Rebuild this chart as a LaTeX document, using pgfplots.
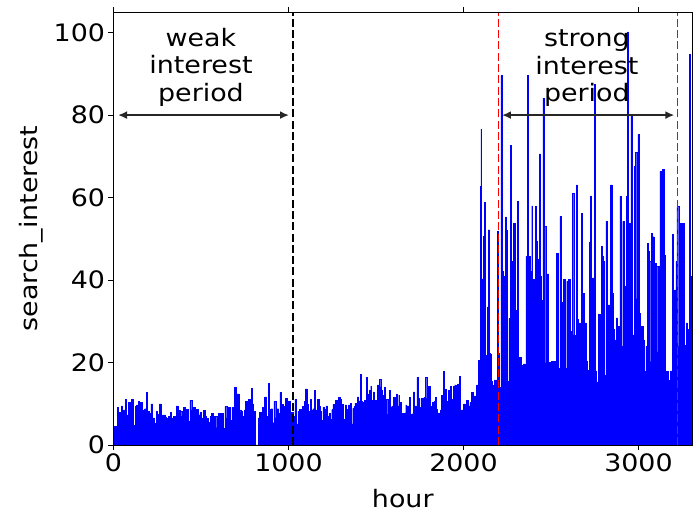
\documentclass[border=0pt]{standalone}
\usepackage{fontspec}
\setmainfont{DejaVu Sans}[FakeStretch=1.12]
\usepackage{pgfplots}
\pgfplotsset{compat=1.18}
\usetikzlibrary{arrows.meta,calc}

\newcommand{\bigfont}{\fontsize{24}{27.5}\selectfont}

\begin{document}
\begin{tikzpicture}
\begin{axis}[
    scale only axis,
    width=578.5pt, height=433pt,
    xmin=0, xmax=3306,
    ymin=0, ymax=105,
    xtick={0,1000,2000,3000},
    ytick={0,20,40,60,80,100},
    tick align=outside,
    major tick length=5pt,
    every tick/.style={black, line width=0.9pt},
    axis line style={line width=0.9pt},
    tick label style={font=\bigfont},
    /pgf/number format/assume math mode=true,
    /pgf/number format/1000 sep={},
    scaled ticks=false,
    xlabel={hour},
    ylabel={search\_interest},
    every axis x label/.style={at={(axis description cs:0.5,-0.1432)}, anchor=base, font=\bigfont},
    every axis y label/.style={at={(axis description cs:-0.1322,0.5)}, anchor=base, rotate=90, font=\bigfont},
    axis on top,
]
% hourly search interest
\addplot[const plot, fill=blue, draw=blue, line width=0.4pt] coordinates {
(0,4.5) (22,9.1) (28,8) (37,8) (43,9.5) (50,5.5) (58,8.5) (66,11) (75,7.3) (85,10.3)
(94,8.5) (104,11) (113,4.8) (123,9.3) (132,9.7) (142,10.5) (148,7.3) (155,10.3) (163,8.5) (171,8.0)
(178,8.8) (186,12.7) (193,7.2) (199,8.2) (205,7.6) (214,10) (224,6.6) (233,5.2) (243,8.1) (252,7.5)
(262,10) (271,6) (281,7.3) (290,7.3) (297,6.8) (304,6.5) (313,7) (323,7.9) (332,6.6) (342,7)
(351,6.2) (361,9.5) (371,8.4) (380,8.1) (390,7) (399,9.1) (409,6.5) (418,8.6) (428,5.7) (437,10.9)
(447,8.5) (456,9.1) (466,6) (475,8.7) (485,7.3) (494,7.9) (504,6.6) (513,8.4) (523,7) (532,6.5)
(542,5.5) (552,6.9) (561,7.6) (571,6.9) (580,7) (590,4.2) (599,7.7) (609,6.2) (618,7.7) (628,4.0)
(637,9.3) (647,6.6) (656,9.1) (660,9.1) (669,6) (677,9.1) (685,7.9) (692,14.0) (700,8.1) (707,12.4)
(717,8.5) (727,8.1) (736,7) (746,8.5) (755,10.5) (765,8.5) (770,11) (780,8.4) (786,13.8) (793,10)
(801,8.1) (808,0) (826,6.6) (835,7.9) (843,6.6) (850,9.1) (858,8.5) (864,11.7) (873,6.9) (883,14.9)
(890,8.6) (900,8.8) (909,5.4) (917,10.5) (927,6.6) (934,8.8) (944,7.6) (951,12.7) (961,9.8) (968,9.3)
(976,6.0) (984,11.3) (993,9.1) (1001,10.5) (1010,6) (1018,7.9) (1028,7) (1037,11) (1045,5.1) (1054,8.1)
(1062,8.6) (1071,5.1) (1081,9.3) (1090,10.5) (1098,13.6) (1108,9.8) (1115,8.1) (1123,11) (1132,8.5) (1140,8.8)
(1148,13.2) (1155,8.5) (1165,11) (1174,9.3) (1182,8.1) (1189,6) (1197,9.1) (1205,8.6) (1214,9.5) (1224,7)
(1231,7.6) (1239,6.2) (1247,8.6) (1254,9.8) (1262,6.5) (1269,10.9) (1277,7) (1285,11.6) (1294,11) (1304,9.8)
(1315,6.2) (1323,9.7) (1331,8.7) (1336,6.3) (1342,9.7) (1350,9.5) (1355,10.1) (1361,5.1) (1367,8.9) (1374,9.3)
(1380,10.1) (1388,9.5) (1393,11.7) (1401,10.7) (1409,17.2) (1414,10.5) (1422,10.3) (1428,9.9) (1435,10.9) (1443,16.4)
(1449,12.4) (1456,12.1) (1462,13.2) (1470,14.3) (1475,10.9) (1483,12.9) (1489,10.8) (1496,10.8) (1502,9.3) (1508,14.6)
(1515,8.3) (1519,15.9) (1527,14.1) (1532,13.2) (1538,6.3) (1542,12.1) (1548,14.0) (1555,11.1) (1563,11.1) (1567,7.5)
(1572,10.9) (1578,13.2) (1584,9.2) (1590,9.5) (1595,8.9) (1601,11.6) (1609,10.1) (1616,12.4) (1622,9.5) (1630,12.1)
(1635,10.3) (1643,7.8) (1649,7.3) (1656,7.7) (1664,7.8) (1670,9.7) (1675,9.5) (1683,9.5) (1691,11.6) (1696,6.9)
(1704,7.5) (1710,7.7) (1713,12.9) (1721,9.5) (1729,6.5) (1734,16.4) (1740,11.3) (1746,9.2) (1752,7.3) (1757,11.3)
(1763,9.3) (1769,11.3) (1774,11.6) (1782,16.4) (1790,11.3) (1793,8.7) (1801,14.3) (1809,9.5) (1816,7.3) (1824,10.3)
(1832,10.5) (1839,11.6) (1845,8.7) (1851,6.1) (1858,7.8) (1866,8.5) (1875,12.0) (1883,17.8) (1889,11.6) (1896,13.5)
(1904,10.5) (1912,13.2) (1917,10.1) (1925,14.3) (1931,11.1) (1938,8.5) (1944,14.3) (1950,14.6) (1957,9.5) (1965,14.8)
(1971,14.6) (1976,16.6) (1980,7.7) (1989,8.5) (1999,10) (2009,9.2) (2018,10.8) (2028,9.5) (2037,10.3) (2047,12.7)
(2056,11.9) (2066,10.3) (2075,14.6) (2085,20.6) (2092,18) (2096,62.7) (2100,76.6) (2104,40.3) (2110,40.3) (2115,50.6)
(2121,58.8) (2127,20.6) (2132,21.8) (2136,33.5) (2142,52.2) (2148,22.3) (2153,22) (2157,15.4) (2165,14.6) (2170,13.8)
(2176,15.8) (2182,14.2) (2188,15.8) (2193,51.8) (2197,22.3) (2205,14.0) (2210,13.4) (2214,89.6) (2220,42.1) (2228,40.9)
(2235,18) (2241,55.3) (2247,52) (2252,15.4) (2260,30.7) (2266,72.6) (2271,44.5) (2279,32.8) (2287,53.8) (2294,32.8)
(2300,15.4) (2306,59.0) (2313,21.3) (2323,21.3) (2332,19.3) (2342,19.7) (2351,14.6) (2357,45.7) (2363,45.7) (2367,89.6)
(2370,45.7) (2380,42.1) (2390,58) (2395,40.1) (2403,27.2) (2409,57.8) (2414,49.3) (2420,19.3) (2428,45) (2433,70.6)
(2439,41) (2447,35.0) (2454,84.1) (2462,53) (2470,20) (2477,41.5) (2485,20) (2494,17.8) (2504,20.2) (2513,20.2)
(2523,15.4) (2532,46.5) (2542,18.6) (2551,55.4) (2557,17.8) (2565,34.6) (2572,40.1) (2580,18.6) (2590,39.7) (2599,40.1)
(2609,23.9) (2616,27.5) (2622,61.1) (2630,26.7) (2636,20.2) (2639,22.2) (2645,63.1) (2651,30.4) (2656,29.6) (2666,21.0)
(2675,56.1) (2681,36.8) (2689,18.6) (2694,29.6) (2700,20.2) (2708,18.2) (2713,16.6) (2719,49.1) (2727,60.4) (2732,14.2)
(2738,40.5) (2746,87.4) (2751,18) (2761,15.3) (2771,31.6) (2780,23.1) (2788,48.1) (2793,45.7) (2799,44.5) (2807,16.9)
(2814,54.2) (2822,13.4) (2828,34.0) (2833,34.0) (2841,63.1) (2849,36.8) (2856,28.0) (2864,25.5) (2872,30.8) (2879,23.9)
(2887,28.7) (2894,60.3) (2902,23.9) (2910,54.2) (2917,38.4) (2925,31.2) (2932,60.3) (2936,100.2) (2942,23.1) (2948,53.8)
(2957,80.1) (2963,26.7) (2971,26.7) (2976,67.6) (2984,71.0) (2990,35.5) (2997,75.3) (3005,32) (3012,28.7) (3020,28.7)
(3028,25.5) (3035,17.8) (3043,23.9) (3051,48.9) (3056,46.9) (3062,44.5) (3070,20.2) (3075,51.3) (3081,50.5) (3089,14.6)
(3094,44.1) (3102,43.3) (3110,22.6) (3115,43.3) (3123,66.4) (3131,20.2) (3138,66.8) (3146,46.1) (3153,16.6) (3161,17.8)
(3169,15.8) (3176,12.1) (3184,18) (3192,51.0) (3199,15.8) (3207,37.6) (3214,44.5) (3220,57.8) (3230,23.9) (3237,53.8)
(3245,26.7) (3252,53.8) (3260,24.3) (3266,20.2) (3272,29.6) (3279,18.6) (3285,28) (3291,94.7) (3298,40.9) (3306,18.6)
(3310,18.6)
} \closedcycle;

% period boundaries
\draw[black, line width=1.5pt, dash pattern=on 8pt off 3.3pt] (axis cs:1026,0) -- (axis cs:1026,105);
\draw[red, line width=1.5pt, dash pattern=on 8pt off 3.3pt] (axis cs:2199,0) -- (axis cs:2199,105);
\draw[red, line width=1.5pt, dash pattern=on 8pt off 3.3pt] (axis cs:3224,0) -- (axis cs:3224,105);

% arrows and notes
\draw[{Latex[length=9pt,width=8pt]}-{Latex[length=9pt,width=8pt]}, line width=1.8pt, black!85]
    (axis cs:26,80) -- (axis cs:1003,80);
\draw[{Latex[length=9pt,width=8pt]}-{Latex[length=9pt,width=8pt]}, line width=1.8pt, black!85]
    (axis cs:2220,80) -- (axis cs:3205,80);
\node[align=center, anchor=north, inner sep=0pt, font=\bigfont] at (axis cs:500,101.2) {weak\\interest\\period};
\node[align=center, anchor=north, inner sep=0pt, font=\bigfont] at (axis cs:2705,100.7) {strong\\interest\\period};

\coordinate (ll) at (rel axis cs:0,0);
\coordinate (ur) at (rel axis cs:1,1);
\end{axis}
\pgfresetboundingbox
\path[use as bounding box] ($(ll)+(-113.5pt,-71pt)$) rectangle ($(ur)+(1pt,12pt)$);
\end{tikzpicture}
\end{document}
